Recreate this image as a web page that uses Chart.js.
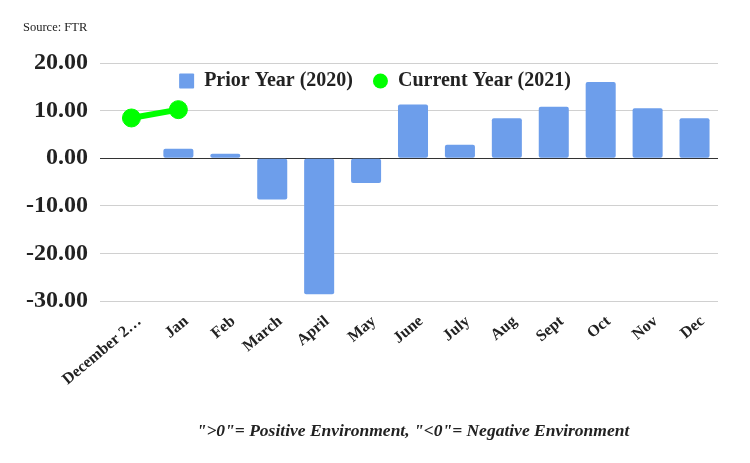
<!DOCTYPE html>
<html>
<head>
<meta charset="utf-8">
<script src="https://cdn.jsdelivr.net/npm/chart.js@4/dist/chart.umd.min.js"></script>
<style>
    body { margin: 0; background: #fff; }
    #wrap { position: relative; width: 750px; height: 463px; }
    #source { position: absolute; left: 23px; top: 20px; font: 12.5px "Liberation Serif", serif; color: #222; }
</style>
</head>
<body>
<div id="wrap">
    <div id="source">Source: FTR</div>
    <canvas id="ftrChart" width="750" height="463"></canvas>
</div>
<script>
const months = ["December 2020", "Jan", "Feb", "March", "April", "May", "June", "July", "Aug", "Sept", "Oct", "Nov", "Dec"];
const priorYear = [null, 2.0, 0.95, -8.7, -28.6, -5.2, 11.3, 2.8, 8.4, 10.8, 16.0, 10.5, 8.4];
const currentYear = [8.45, 10.2, null, null, null, null, null, null, null, null, null, null, null];
const yTicks = [-30, -20, -10, 0, 10, 20];

const serif = "'Liberation Serif', 'Times New Roman', serif";

// keep legend from pushing the plot down, and center it on the canvas
const legendSpot = {
    id: "legendSpot",
    beforeUpdate(chart) {
        const legend = chart.legend;
        if (legend && !legend._patched) {
            const fit = legend.fit;
            legend.fit = function () {
                fit.call(this);
                this.height = 12;
            };
            legend._patched = true;
        }
    },
    afterLayout(chart) {
        const legend = chart.legend;
        legend.left = 0;
        legend.right = chart.width;
        legend.width = chart.width;
        legend.bottom = legend.top + 60;
        legend.height = 60;
    }
};

const ctx = document.getElementById("ftrChart").getContext("2d");

new Chart(ctx, {
    data: {
        labels: months,
        datasets: [{
            type: "bar",
            label: "Prior Year (2020)",
            data: priorYear,
            backgroundColor: "#6d9eeb",
            borderRadius: 2,
            borderSkipped: false,
            barPercentage: 0.64,
            categoryPercentage: 1
        }, {
            type: "line",
            label: "Current Year (2021)",
            data: currentYear,
            borderColor: "#00ff00",
            backgroundColor: "#00ff00",
            borderWidth: 6,
            pointRadius: 9,
            pointBorderWidth: 1,
            pointBackgroundColor: "#00ff00",
            spanGaps: false
        }]
    },
    options: {
        responsive: false,
        animation: false,
        layout: {
            padding: { top: 51, right: 32, bottom: 20, left: 0 }
        },
        plugins: {
            tooltip: { enabled: false },
            legend: {
                position: "top",
                labels: {
                    boxWidth: 15,
                    boxHeight: 15,
                    padding: 20,
                    color: "#222",
                    useBorderRadius: true,
                    font: { family: serif, size: 20, weight: "bold" },
                    generateLabels(chart) {
                        const items = Chart.defaults.plugins.legend.labels.generateLabels(chart);
                        items.forEach(item => {
                            item.lineWidth = 0;
                            item.borderRadius = item.datasetIndex === 1 ? 7.5 : 1;
                        });
                        return items;
                    }
                }
            }
        },
        scales: {
            x: {
                grid: { display: false },
                border: { display: false },
                ticks: {
                    autoSkip: false,
                    minRotation: 40,
                    maxRotation: 40,
                    labelOffset: 8,
                    color: "#222",
                    font: { family: serif, size: 16, weight: "bold" },
                    callback(value) {
                        const label = this.getLabelForValue(value);
                        return label.length > 11 ? label.slice(0, 10) + "\u2026" : label;
                    }
                },
                title: {
                    display: true,
                    text: "\">0\"= Positive Environment, \"<0\"= Negative Environment",
                    color: "#222",
                    padding: { top: 0, bottom: 1 },
                    font: { family: serif, size: 17.5, weight: "bold", style: "italic" }
                },
                afterFit(scale) {
                    scale.height = 142;
                }
            },
            y: {
                min: -30,
                max: 20,
                border: { display: false },
                grid: {
                    tickLength: 8,
                    color: c => c.tick && c.tick.value === 0 ? "#333" : "#d0d0d0",
                    tickColor: c => c.tick && c.tick.value === 0 ? "#333" : "#d0d0d0"
                },
                afterBuildTicks(scale) {
                    scale.ticks = yTicks.map(v => ({ value: v }));
                },
                ticks: {
                    padding: 12,
                    color: "#222",
                    font: { family: serif, size: 24, weight: "bold" },
                    callback: value => value.toFixed(2)
                },
                afterFit(scale) {
                    scale.width = 108;
                }
            }
        }
    },
    plugins: [legendSpot]
});
</script>
</body>
</html>
